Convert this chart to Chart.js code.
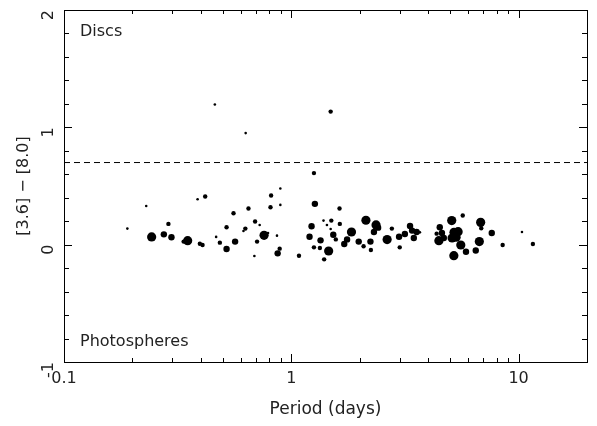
<!DOCTYPE html>
<html><head><meta charset="utf-8">
<script src="https://cdn.jsdelivr.net/npm/chart.js@4"></script>
<style>html,body{margin:0;padding:0;background:#fff}#wrap{width:597px;height:426px;position:relative}</style>
</head><body><div id="wrap"><canvas id="c"></canvas></div>
<script>
// ---- data ----
const periods = [0.19,0.23,0.243,0.275,0.297,0.288,0.35,0.336,0.396,0.407,0.387,0.418,0.467,0.485,0.519,0.519,0.557,0.566,0.648,0.628,0.616,0.693,0.726,0.688,0.707,0.759,0.79,0.815,0.895,0.81,0.895,0.865,0.889,0.871,1.081,1.228,1.203,1.258,1.27,1.258,1.345,1.336,1.386,1.435,1.5,1.49,1.53,1.57,1.46,1.395,1.63,1.635,1.71,1.76,1.84,1.98,2.08,2.13,2.24,2.23,2.31,2.36,2.41,2.77,2.64,2.98,3.0,3.16,3.33,3.46,3.56,3.4,4.36,4.5,4.46,4.6,5.08,5.68,5.2,5.42,5.31,5.19,5.57,5.87,6.48,6.81,6.85,7.62,6.72,8.51,10.35,11.56,0.461,0.63,1.49,4.69,5.1,3.68];
const colours = [0.137,0.33,0.066,0.088,0.063,0.177,0.034,0.026,0.008,-0.003,0.387,0.41,0.066,0.017,-0.037,0.148,0.268,0.026,0.308,0.137,0.117,0.197,0.168,-0.097,0.026,0.08,0.1,0.419,0.479,0.319,0.339,0.077,-0.034,-0.074,-0.094,0.157,0.068,-0.023,0.348,0.61,0.037,-0.028,0.205,0.168,0.205,0.134,0.085,0.045,-0.054,-0.125,0.308,0.177,0.006,0.045,0.108,0.026,-0.014,0.208,-0.046,0.026,0.108,0.168,0.145,0.137,0.043,0.068,-0.023,0.091,0.16,0.057,0.108,0.12,0.094,0.148,0.034,0.1,0.205,0.248,0.105,0.111,0.063,-0.094,-0.003,-0.06,-0.05,0.19,0.14,0.1,0.026,-0.003,0.108,0.006,1.194,0.951,1.134,0.057,0.057,0.105];
const sizeClass = [1,1,4,3,3,2,4,2,2,2,1,2,1,2,3,2,2,3,2,2,1,2,1,1,2,4,1,2,1,2,1,1,2,3,2,3,3,2,3,2,3,2,1,1,2,1,3,2,4,2,2,2,3,3,4,3,2,4,2,3,3,4,3,2,4,3,2,3,3,3,3,3,2,3,4,3,4,2,4,4,4,4,4,3,3,4,2,3,4,2,1,2,1,1,2,3,4,1];
const discLimit = 0.7;
const xTickLabels = [0.1, 1, 10];
const yTickLabels = [-1, 0, 1, 2];
const xRange = [0.1, 20];
const yRange = [-1, 2];

// ---- styling ----
const RADII = {1:1.3, 2:2.2, 3:3.2, 4:4.6};
const FONT = 'DejaVu Sans';
const INK = '#222';
const points = periods.map((p,i)=>({x:p, y:colours[i]}));

const frameTicks = {
  id:'frameTicks',
  afterDraw(chart){
    const {ctx, chartArea:a, scales:{x,y}} = chart;
    ctx.save();
    ctx.strokeStyle='#000'; ctx.lineWidth=1;
    ctx.strokeRect(Math.round(a.left)+0.5, Math.round(a.top)+0.5, Math.round(a.right-a.left), Math.round(a.bottom-a.top));
    ctx.beginPath();
    for (let d=-1; d<=1; d++){
      for (let m=1; m<=9; m++){
        const v = m*Math.pow(10,d);
        if (v < xRange[0]-1e-9 || v > xRange[1]+1e-9) continue;
        const px = Math.round(x.getPixelForValue(v))+0.5;
        const L = m===1 ? 8 : 4;
        ctx.moveTo(px,a.bottom); ctx.lineTo(px,a.bottom-L);
        ctx.moveTo(px,a.top); ctx.lineTo(px,a.top+L);
      }
    }
    for (let k=0; k<=15; k++){
      const v = yRange[0] + k*0.2;
      const py = Math.round(y.getPixelForValue(v))+0.5;
      const major = Math.abs(v-Math.round(v))<1e-6;
      const L = major ? 8 : 5;
      ctx.moveTo(a.left,py); ctx.lineTo(a.left+L,py);
      ctx.moveTo(a.right,py); ctx.lineTo(a.right-L,py);
    }
    ctx.stroke();
    ctx.fillStyle=INK;
    ctx.font = '16px "'+FONT+'"';
    ctx.textBaseline='alphabetic'; ctx.textAlign='left';
    ctx.fillText('Discs', a.left+16, a.top+26);
    ctx.fillText('Photospheres', a.left+16, a.bottom-16);
    ctx.restore();
  }
};

new Chart(document.getElementById('c'), {
  type:'scatter',
  data:{datasets:[
    {data:points, backgroundColor:'#000', borderWidth:0,
     pointRadius: sizeClass.map(s=>RADII[s]), pointHoverRadius: sizeClass.map(s=>RADII[s])},
    {type:'line', data:[{x:xRange[0],y:discLimit},{x:xRange[1],y:discLimit}],
     borderColor:'#000', borderWidth:1, borderDash:[6,4], pointRadius:0, fill:false}
  ]},
  options:{
    responsive:true, maintainAspectRatio:false, animation:false,
    layout:{padding:{top:10,right:10,left:0,bottom:0}},
    plugins:{legend:{display:false}, tooltip:{enabled:false}},
    scales:{
      x:{type:'logarithmic', min:xRange[0], max:xRange[1],
         afterBuildTicks(s){ s.ticks = xTickLabels.map(v=>({value:v})); },
         afterFit(s){ s.height = 64; s.paddingLeft = 0; s.paddingRight = 0; },
         grid:{display:false, drawTicks:false},
         border:{display:true,color:'#000'},
         ticks:{color:INK, padding:7, font:{family:FONT,size:16}, callback:(v)=>String(v), autoSkip:false, maxRotation:0},
         title:{display:true, text:'Period (days)', color:INK, font:{family:FONT,size:17}, padding:{top:0,bottom:6}}
      },
      y:{type:'linear', min:yRange[0], max:yRange[1],
         afterBuildTicks(s){ s.ticks = yTickLabels.map(v=>({value:v})); },
         afterFit(s){ s.width = 64; s.paddingTop = 0; s.paddingBottom = 0; },
         grid:{display:false, drawTicks:false},
         border:{display:true,color:'#000'},
         ticks:{color:INK, padding:15, font:{family:FONT,size:16}, minRotation:90, maxRotation:90, callback:(v)=>String(v)},
         title:{display:true, text:'[3.6] − [8.0]', color:INK, font:{family:FONT,size:16}, padding:{top:14,bottom:0}}
      }
    }
  },
  plugins:[frameTicks]
});
</script></body></html>
